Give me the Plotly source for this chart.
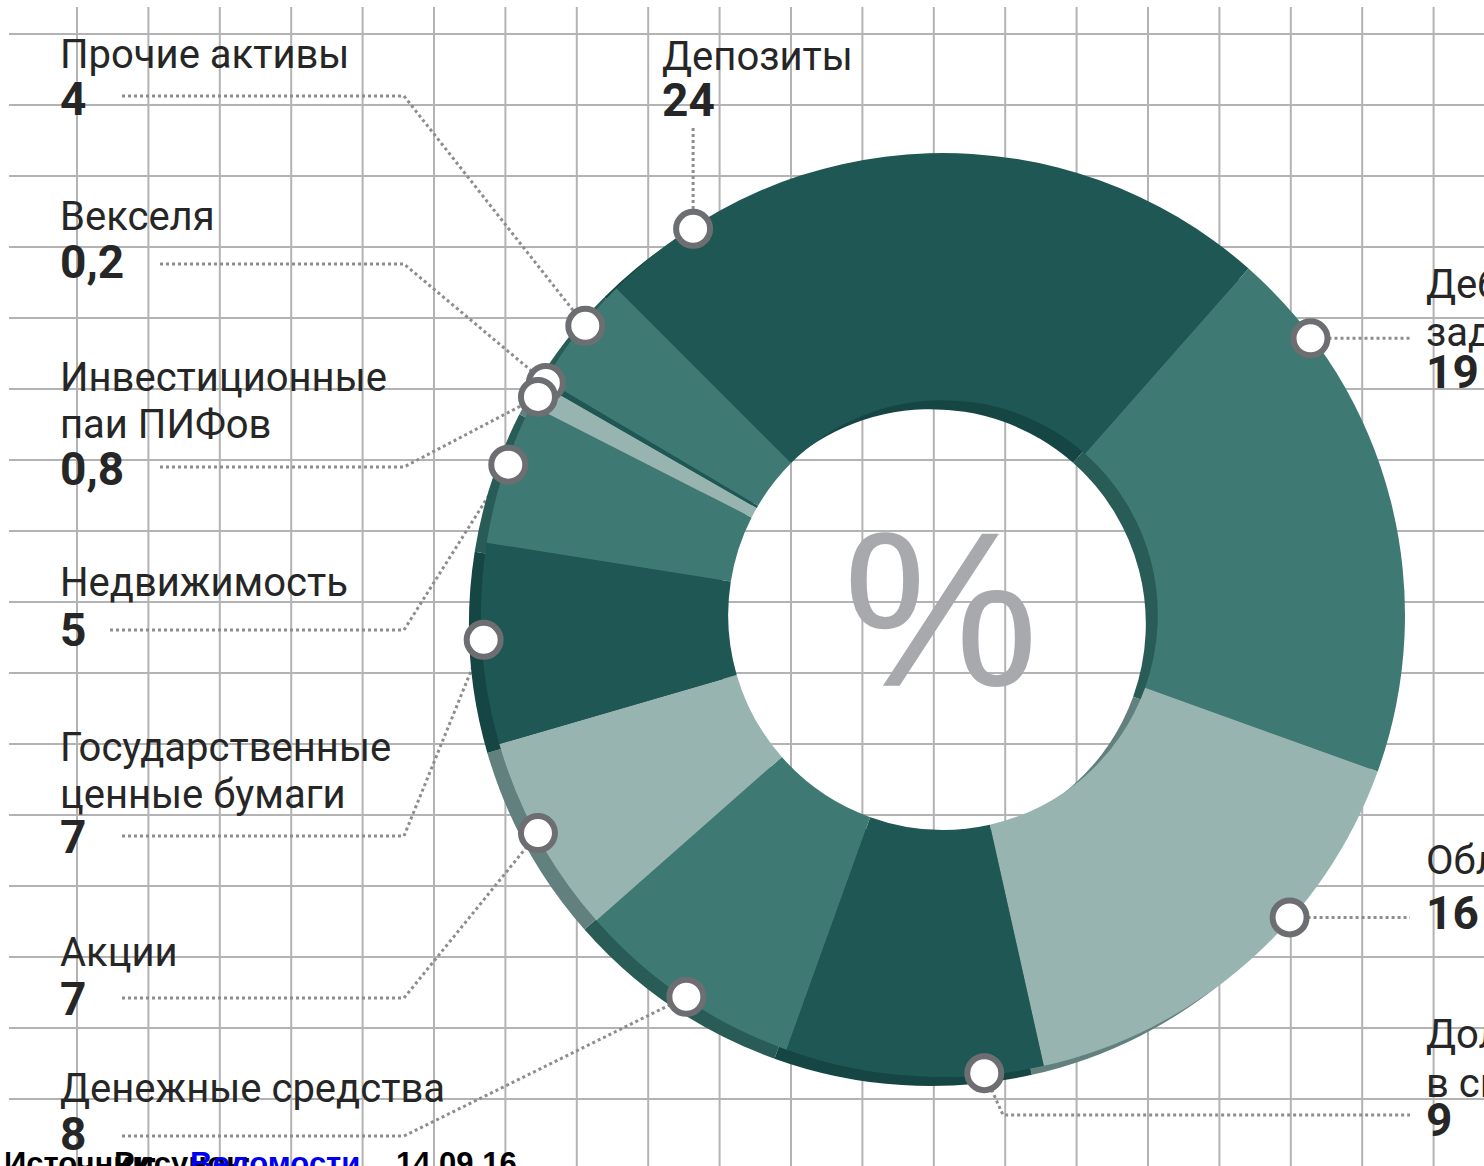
import numpy as np
import plotly.graph_objects as go

# ---------------- data ----------------
categories = ["Депозиты", "Дебиторская задолженность", "Облигации",
              "Доли в складочных капиталах", "Денежные средства", "Акции",
              "Государственные ценные бумаги", "Недвижимость",
              "Инвестиционные паи ПИФов", "Векселя", "Прочие активы"]
values = [24, 19, 16, 9, 8, 7, 7, 5, 0.8, 0.2, 4]
value_labels = ["24", "19", "16", "9", "8", "7", "7", "5", "0,8", "0,2", "4"]
label_lines = [["Депозиты"], ["Дебиторская", "задолженность"], ["Облигации"],
               ["Доли", "в складочных капиталах"], ["Денежные средства"], ["Акции"],
               ["Государственные", "ценные бумаги"], ["Недвижимость"],
               ["Инвестиционные", "паи ПИФов"], ["Векселя"], ["Прочие активы"]]
center_label = "%"
source_parts = ["Источник:", "Рисунок:", "Ведомости", ",", "14.09.16"]

# ---------------- layout constants (pixels) ----------------
W, H = 1484, 1166
CX, CY, R = 943, 615, 462
HOLE = 0.465
BACK_DX, BACK_DY = -12, 9
ROTATION = -45
MARK_R = 460
mark_frac = [0.14, 0.17, 0.37, 0.23, 0.49, 0.52, 0.52, 0.56, 0.45, 0.58, 0.58]

FRONT = ["#1e5754", "#3e7a73", "#97b4b0"]
BACK = ["#164643", "#2a5c57", "#62807d"]
front_colors = [FRONT[i % 3] for i in range(len(values))]
back_colors = [BACK[i % 3] for i in range(len(values))]

GRID_COLOR = "#b3b3b3"
LEADER_COLOR = "#8d8d8d"
TEXT_COLOR = "#262626"
NAME_FONT = dict(family="Roboto, DejaVu Sans, sans-serif", size=40, color=TEXT_COLOR)
VALUE_FONT = dict(family="Roboto, DejaVu Sans, sans-serif", size=46, color=TEXT_COLOR)

label_pos = [
    dict(x=660, name_y=[56], val_y=100),
    dict(x=1424, name_y=[284, 332], val_y=372),
    dict(x=1424, name_y=[860], val_y=913),
    dict(x=1424, name_y=[1034, 1083], val_y=1120),
    dict(x=58, name_y=[1088], val_y=1134),
    dict(x=58, name_y=[952], val_y=999),
    dict(x=58, name_y=[747, 794], val_y=837),
    dict(x=58, name_y=[582], val_y=630),
    dict(x=58, name_y=[377, 424], val_y=469),
    dict(x=58, name_y=[216], val_y=262),
    dict(x=58, name_y=[54], val_y=99),
]
left_leader = {4: (122, 1136), 5: (122, 998), 6: (122, 836), 7: (110, 630),
               8: (160, 467), 9: (160, 264), 10: (122, 96)}
ELBOW_X = 404
RIGHT_END = 1410
source_x = [2, 112, 188, 356, 394]
source_col = ["#000000", "#000000", "#0000ee", "#000000", "#000000"]


def dom(cx, cy, r):
    return dict(x=[(cx - r) / W, (cx + r) / W],
                y=[(H - cy - r) / H, (H - cy + r) / H])


fig = go.Figure()

# grid
vx = [77 + 71.4 * k for k in range(20)]
hy = [34 + 71.0 * k for k in range(16)]
gx, gy = [], []
for x in vx:
    gx += [x, x, None]
    gy += [7, H, None]
for y in hy:
    gx += [9, W, None]
    gy += [y, y, None]
fig.add_trace(go.Scatter(x=gx, y=gy, mode="lines", hoverinfo="skip",
                         line=dict(color=GRID_COLOR, width=2), showlegend=False))

# marker positions computed from the data
vals = np.array(values, dtype=float)
total = vals.sum()
start = np.concatenate([[0.0], np.cumsum(vals)[:-1]])
theta = np.radians(ROTATION + 360.0 * (start + np.array(mark_frac) * vals) / total)
mx = CX + MARK_R * np.sin(theta)
my = CY - MARK_R * np.cos(theta)

# leader lines
lx, ly = [], []
for i in range(len(values)):
    if i == 0:
        pts = [(mx[i], 128), (mx[i], my[i])]
    elif i in (1, 2):
        pts = [(mx[i], my[i]), (RIGHT_END, my[i])]
    elif i == 3:
        pts = [(mx[i], my[i]), (1003, 1115), (RIGHT_END, 1115)]
    else:
        sx, sy = left_leader[i]
        pts = [(sx, sy), (ELBOW_X, sy), (mx[i], my[i])]
    for p in pts:
        lx.append(p[0]); ly.append(p[1])
    lx.append(None); ly.append(None)
fig.add_trace(go.Scatter(x=lx, y=ly, mode="lines", hoverinfo="skip",
                         line=dict(color=LEADER_COLOR, width=3, dash="3px,3px"),
                         showlegend=False))

# donut: back (3D side) and front
fig.add_trace(go.Pie(labels=categories, values=values, sort=False, direction="clockwise",
                     rotation=ROTATION, hole=HOLE, textinfo="none", hoverinfo="skip",
                     marker=dict(colors=back_colors, line=dict(width=0)),
                     domain=dom(CX + BACK_DX, CY + BACK_DY, R), showlegend=False))
fig.add_trace(go.Pie(labels=categories, values=values, sort=False, direction="clockwise",
                     rotation=ROTATION, hole=HOLE, textinfo="none",
                     marker=dict(colors=front_colors, line=dict(width=0)),
                     domain=dom(CX, CY, R), showlegend=False))

# circle markers (above the pie)
shapes = []
for i in reversed(range(len(values))):
    shapes.append(dict(type="circle", xref="x", yref="y", xsizemode="pixel",
                       ysizemode="pixel", xanchor=float(mx[i]), yanchor=float(my[i]),
                       x0=-17, x1=17, y0=-17, y1=17, layer="above",
                       fillcolor="white", line=dict(color="#6d6e71", width=6)))

annotations = []
for i, lines in enumerate(label_lines):
    pos = label_pos[i]
    for txt, yy in zip(lines, pos["name_y"]):
        annotations.append(dict(x=pos["x"], y=yy, xref="x", yref="y", text=txt,
                                showarrow=False, xanchor="left", yanchor="middle",
                                font=NAME_FONT))
    annotations.append(dict(x=pos["x"], y=pos["val_y"], xref="x", yref="y",
                            text="<b>" + value_labels[i] + "</b>", showarrow=False,
                            xanchor="left", yanchor="middle", font=VALUE_FONT))

annotations.append(dict(x=CX - 2, y=610, xref="x", yref="y", text=center_label,
                        showarrow=False, xanchor="center", yanchor="middle",
                        font=dict(family="Liberation Sans, Arial, sans-serif", size=220,
                                  color="#a7a9ac")))

for txt, x, col in zip(source_parts, source_x, source_col):
    annotations.append(dict(x=x, y=1144, xref="x", yref="y", text="<b>" + txt + "</b>",
                            showarrow=False, xanchor="left", yanchor="top",
                            font=dict(family="Liberation Sans, Arial, sans-serif",
                                      size=31, color=col)))

fig.update_layout(
    width=W, height=H, margin=dict(l=0, r=0, t=0, b=0),
    paper_bgcolor="white", plot_bgcolor="white",
    xaxis=dict(range=[0, W], visible=False, fixedrange=True),
    yaxis=dict(range=[H, 0], visible=False, fixedrange=True),
    shapes=shapes, annotations=annotations, showlegend=False,
)

fig.write_html("out.html", config={"displayModeBar": False},
               post_script="document.body.style.margin='0';document.body.style.overflow='hidden';")
